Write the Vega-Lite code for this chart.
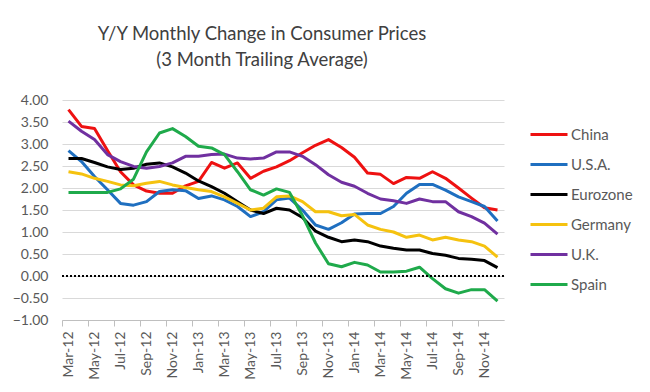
{
  "$schema": "https://vega.github.io/schema/vega-lite/v6.json",
  "width": 442,
  "height": 220,
  "autosize": {"type": "none"},
  "padding": {"left": 62, "top": 100, "right": 146, "bottom": 72},
  "background": "white",
  "title": {
    "text": ["Y/Y Monthly Change in Consumer Prices", "(3 Month Trailing Average)"],
    "font": "Lato",
    "fontSize": 18.5,
    "fontWeight": "normal",
    "color": "#404040",
    "lineHeight": 26,
    "anchor": "middle",
    "dx": -21,
    "offset": 24
  },
  "config": {
    "view": {"stroke": null},
    "font": "Lato"
  },
  "data": {"values": [
    {"m":"Mar-12","s":"China","v":3.78},{"m":"Apr-12","s":"China","v":3.40},{"m":"May-12","s":"China","v":3.35},{"m":"Jun-12","s":"China","v":2.85},{"m":"Jul-12","s":"China","v":2.37},{"m":"Aug-12","s":"China","v":2.07},{"m":"Sep-12","s":"China","v":1.93},{"m":"Oct-12","s":"China","v":1.88},{"m":"Nov-12","s":"China","v":1.88},{"m":"Dec-12","s":"China","v":2.05},{"m":"Jan-13","s":"China","v":2.15},{"m":"Feb-13","s":"China","v":2.58},{"m":"Mar-13","s":"China","v":2.45},{"m":"Apr-13","s":"China","v":2.57},{"m":"May-13","s":"China","v":2.22},{"m":"Jun-13","s":"China","v":2.38},{"m":"Jul-13","s":"China","v":2.48},{"m":"Aug-13","s":"China","v":2.62},{"m":"Sep-13","s":"China","v":2.80},{"m":"Oct-13","s":"China","v":2.97},{"m":"Nov-13","s":"China","v":3.10},{"m":"Dec-13","s":"China","v":2.92},{"m":"Jan-14","s":"China","v":2.70},{"m":"Feb-14","s":"China","v":2.34},{"m":"Mar-14","s":"China","v":2.31},{"m":"Apr-14","s":"China","v":2.10},{"m":"May-14","s":"China","v":2.24},{"m":"Jun-14","s":"China","v":2.22},{"m":"Jul-14","s":"China","v":2.37},{"m":"Aug-14","s":"China","v":2.22},{"m":"Sep-14","s":"China","v":2.00},{"m":"Oct-14","s":"China","v":1.77},{"m":"Nov-14","s":"China","v":1.55},{"m":"Dec-14","s":"China","v":1.50},
    {"m":"Mar-12","s":"U.S.A.","v":2.85},{"m":"Apr-12","s":"U.S.A.","v":2.60},{"m":"May-12","s":"U.S.A.","v":2.26},{"m":"Jun-12","s":"U.S.A.","v":1.96},{"m":"Jul-12","s":"U.S.A.","v":1.65},{"m":"Aug-12","s":"U.S.A.","v":1.61},{"m":"Sep-12","s":"U.S.A.","v":1.69},{"m":"Oct-12","s":"U.S.A.","v":1.92},{"m":"Nov-12","s":"U.S.A.","v":1.96},{"m":"Dec-12","s":"U.S.A.","v":1.94},{"m":"Jan-13","s":"U.S.A.","v":1.76},{"m":"Feb-13","s":"U.S.A.","v":1.82},{"m":"Mar-13","s":"U.S.A.","v":1.73},{"m":"Apr-13","s":"U.S.A.","v":1.58},{"m":"May-13","s":"U.S.A.","v":1.35},{"m":"Jun-13","s":"U.S.A.","v":1.46},{"m":"Jul-13","s":"U.S.A.","v":1.73},{"m":"Aug-13","s":"U.S.A.","v":1.77},{"m":"Sep-13","s":"U.S.A.","v":1.50},{"m":"Oct-13","s":"U.S.A.","v":1.16},{"m":"Nov-13","s":"U.S.A.","v":1.06},{"m":"Dec-13","s":"U.S.A.","v":1.21},{"m":"Jan-14","s":"U.S.A.","v":1.41},{"m":"Feb-14","s":"U.S.A.","v":1.42},{"m":"Mar-14","s":"U.S.A.","v":1.42},{"m":"Apr-14","s":"U.S.A.","v":1.58},{"m":"May-14","s":"U.S.A.","v":1.88},{"m":"Jun-14","s":"U.S.A.","v":2.08},{"m":"Jul-14","s":"U.S.A.","v":2.08},{"m":"Aug-14","s":"U.S.A.","v":1.95},{"m":"Sep-14","s":"U.S.A.","v":1.80},{"m":"Oct-14","s":"U.S.A.","v":1.69},{"m":"Nov-14","s":"U.S.A.","v":1.58},{"m":"Dec-14","s":"U.S.A.","v":1.25},
    {"m":"Mar-12","s":"Eurozone","v":2.67},{"m":"Apr-12","s":"Eurozone","v":2.67},{"m":"May-12","s":"Eurozone","v":2.58},{"m":"Jun-12","s":"Eurozone","v":2.48},{"m":"Jul-12","s":"Eurozone","v":2.42},{"m":"Aug-12","s":"Eurozone","v":2.45},{"m":"Sep-12","s":"Eurozone","v":2.54},{"m":"Oct-12","s":"Eurozone","v":2.57},{"m":"Nov-12","s":"Eurozone","v":2.48},{"m":"Dec-12","s":"Eurozone","v":2.34},{"m":"Jan-13","s":"Eurozone","v":2.16},{"m":"Feb-13","s":"Eurozone","v":2.03},{"m":"Mar-13","s":"Eurozone","v":1.88},{"m":"Apr-13","s":"Eurozone","v":1.69},{"m":"May-13","s":"Eurozone","v":1.50},{"m":"Jun-13","s":"Eurozone","v":1.42},{"m":"Jul-13","s":"Eurozone","v":1.54},{"m":"Aug-13","s":"Eurozone","v":1.50},{"m":"Sep-13","s":"Eurozone","v":1.33},{"m":"Oct-13","s":"Eurozone","v":1.02},{"m":"Nov-13","s":"Eurozone","v":0.88},{"m":"Dec-13","s":"Eurozone","v":0.78},{"m":"Jan-14","s":"Eurozone","v":0.82},{"m":"Feb-14","s":"Eurozone","v":0.78},{"m":"Mar-14","s":"Eurozone","v":0.68},{"m":"Apr-14","s":"Eurozone","v":0.63},{"m":"May-14","s":"Eurozone","v":0.59},{"m":"Jun-14","s":"Eurozone","v":0.59},{"m":"Jul-14","s":"Eurozone","v":0.51},{"m":"Aug-14","s":"Eurozone","v":0.47},{"m":"Sep-14","s":"Eurozone","v":0.40},{"m":"Oct-14","s":"Eurozone","v":0.38},{"m":"Nov-14","s":"Eurozone","v":0.35},{"m":"Dec-14","s":"Eurozone","v":0.19},
    {"m":"Mar-12","s":"Germany","v":2.37},{"m":"Apr-12","s":"Germany","v":2.32},{"m":"May-12","s":"Germany","v":2.22},{"m":"Jun-12","s":"Germany","v":2.15},{"m":"Jul-12","s":"Germany","v":2.07},{"m":"Aug-12","s":"Germany","v":2.05},{"m":"Sep-12","s":"Germany","v":2.11},{"m":"Oct-12","s":"Germany","v":2.15},{"m":"Nov-12","s":"Germany","v":2.07},{"m":"Dec-12","s":"Germany","v":2.01},{"m":"Jan-13","s":"Germany","v":1.96},{"m":"Feb-13","s":"Germany","v":1.92},{"m":"Mar-13","s":"Germany","v":1.80},{"m":"Apr-13","s":"Germany","v":1.65},{"m":"May-13","s":"Germany","v":1.50},{"m":"Jun-13","s":"Germany","v":1.54},{"m":"Jul-13","s":"Germany","v":1.80},{"m":"Aug-13","s":"Germany","v":1.82},{"m":"Sep-13","s":"Germany","v":1.69},{"m":"Oct-13","s":"Germany","v":1.46},{"m":"Nov-13","s":"Germany","v":1.46},{"m":"Dec-13","s":"Germany","v":1.37},{"m":"Jan-14","s":"Germany","v":1.40},{"m":"Feb-14","s":"Germany","v":1.16},{"m":"Mar-14","s":"Germany","v":1.06},{"m":"Apr-14","s":"Germany","v":1.00},{"m":"May-14","s":"Germany","v":0.88},{"m":"Jun-14","s":"Germany","v":0.93},{"m":"Jul-14","s":"Germany","v":0.82},{"m":"Aug-14","s":"Germany","v":0.88},{"m":"Sep-14","s":"Germany","v":0.82},{"m":"Oct-14","s":"Germany","v":0.78},{"m":"Nov-14","s":"Germany","v":0.68},{"m":"Dec-14","s":"Germany","v":0.43},
    {"m":"Mar-12","s":"U.K.","v":3.52},{"m":"Apr-12","s":"U.K.","v":3.29},{"m":"May-12","s":"U.K.","v":3.10},{"m":"Jun-12","s":"U.K.","v":2.76},{"m":"Jul-12","s":"U.K.","v":2.60},{"m":"Aug-12","s":"U.K.","v":2.49},{"m":"Sep-12","s":"U.K.","v":2.45},{"m":"Oct-12","s":"U.K.","v":2.49},{"m":"Nov-12","s":"U.K.","v":2.57},{"m":"Dec-12","s":"U.K.","v":2.72},{"m":"Jan-13","s":"U.K.","v":2.72},{"m":"Feb-13","s":"U.K.","v":2.76},{"m":"Mar-13","s":"U.K.","v":2.77},{"m":"Apr-13","s":"U.K.","v":2.68},{"m":"May-13","s":"U.K.","v":2.66},{"m":"Jun-13","s":"U.K.","v":2.68},{"m":"Jul-13","s":"U.K.","v":2.82},{"m":"Aug-13","s":"U.K.","v":2.82},{"m":"Sep-13","s":"U.K.","v":2.72},{"m":"Oct-13","s":"U.K.","v":2.53},{"m":"Nov-13","s":"U.K.","v":2.30},{"m":"Dec-13","s":"U.K.","v":2.13},{"m":"Jan-14","s":"U.K.","v":2.04},{"m":"Feb-14","s":"U.K.","v":1.88},{"m":"Mar-14","s":"U.K.","v":1.75},{"m":"Apr-14","s":"U.K.","v":1.71},{"m":"May-14","s":"U.K.","v":1.65},{"m":"Jun-14","s":"U.K.","v":1.75},{"m":"Jul-14","s":"U.K.","v":1.69},{"m":"Aug-14","s":"U.K.","v":1.69},{"m":"Sep-14","s":"U.K.","v":1.46},{"m":"Oct-14","s":"U.K.","v":1.35},{"m":"Nov-14","s":"U.K.","v":1.20},{"m":"Dec-14","s":"U.K.","v":0.95},
    {"m":"Mar-12","s":"Spain","v":1.90},{"m":"Apr-12","s":"Spain","v":1.90},{"m":"May-12","s":"Spain","v":1.90},{"m":"Jun-12","s":"Spain","v":1.90},{"m":"Jul-12","s":"Spain","v":1.98},{"m":"Aug-12","s":"Spain","v":2.20},{"m":"Sep-12","s":"Spain","v":2.82},{"m":"Oct-12","s":"Spain","v":3.25},{"m":"Nov-12","s":"Spain","v":3.35},{"m":"Dec-12","s":"Spain","v":3.17},{"m":"Jan-13","s":"Spain","v":2.95},{"m":"Feb-13","s":"Spain","v":2.91},{"m":"Mar-13","s":"Spain","v":2.76},{"m":"Apr-13","s":"Spain","v":2.37},{"m":"May-13","s":"Spain","v":1.96},{"m":"Jun-13","s":"Spain","v":1.84},{"m":"Jul-13","s":"Spain","v":1.98},{"m":"Aug-13","s":"Spain","v":1.90},{"m":"Sep-13","s":"Spain","v":1.37},{"m":"Oct-13","s":"Spain","v":0.75},{"m":"Nov-13","s":"Spain","v":0.28},{"m":"Dec-13","s":"Spain","v":0.21},{"m":"Jan-14","s":"Spain","v":0.31},{"m":"Feb-14","s":"Spain","v":0.25},{"m":"Mar-14","s":"Spain","v":0.09},{"m":"Apr-14","s":"Spain","v":0.09},{"m":"May-14","s":"Spain","v":0.11},{"m":"Jun-14","s":"Spain","v":0.20},{"m":"Jul-14","s":"Spain","v":-0.06},{"m":"Aug-14","s":"Spain","v":-0.29},{"m":"Sep-14","s":"Spain","v":-0.39},{"m":"Oct-14","s":"Spain","v":-0.31},{"m":"Nov-14","s":"Spain","v":-0.31},{"m":"Dec-14","s":"Spain","v":-0.57}
  ]},
  "encoding": {
    "y": {
      "field": "v", "type": "quantitative",
      "scale": {"domain": [-1, 4], "nice": false, "zero": false},
      "axis": {
        "title": null,
        "values": [-1, -0.5, 0, 0.5, 1, 1.5, 2, 2.5, 3, 3.5, 4],
        "format": ".2f",
        "labelFont": "Lato",
        "labelFontSize": 14,
        "labelColor": "#595959",
        "labelPadding": 14,
        "labelOverlap": false,
        "labelBound": false,
        "domain": false,
        "ticks": false,
        "grid": true,
        "gridColor": "#d9d9d9",
        "gridWidth": 1
      }
    }
  },
  "layer": [
    {
      "mark": {"type": "line", "strokeWidth": 3, "strokeJoin": "round"},
      "encoding": {
        "x": {
          "field": "m", "type": "ordinal", "sort": null,
          "scale": {"type": "point", "padding": 0.5},
          "axis": {
            "title": null,
            "values": ["Mar-12","May-12","Jul-12","Sep-12","Nov-12","Jan-13","Mar-13","May-13","Jul-13","Sep-13","Nov-13","Jan-14","Mar-14","May-14","Jul-14","Sep-14","Nov-14"],
            "labelAngle": -90,
            "labelFont": "Lato",
            "labelFontSize": 14,
            "labelColor": "#595959",
            "labelPadding": 5,
            "labelOverlap": false,
            "tickOffset": -6.5,
            "labelOffset": 6.5,
            "tickSize": 6,
            "tickColor": "#bfbfbf",
            "domainColor": "#bfbfbf",
            "grid": false
          }
        },
        "color": {
          "field": "s", "type": "nominal",
          "scale": {
            "domain": ["China", "U.S.A.", "Eurozone", "Germany", "U.K.", "Spain"],
            "range": ["#ee1111", "#1f6fc0", "#000000", "#f5c20f", "#7030a0", "#1faa4b"]
          },
          "legend": {
            "title": null,
            "orient": "none",
            "legendX": 467,
            "legendY": 14.5,
            "symbolType": "stroke",
            "symbolSize": 1369,
            "symbolStrokeWidth": 3,
            "labelFont": "Lato",
            "labelFontSize": 15,
            "labelColor": "#595959",
            "labelOffset": 2,
            "rowPadding": 2
          }
        }
      }
    },
    {
      "mark": {"type": "rule", "strokeDash": [2, 2], "strokeWidth": 2, "color": "#000000"},
      "encoding": {"y": {"datum": 0, "type": "quantitative"}}
    }
  ]
}
